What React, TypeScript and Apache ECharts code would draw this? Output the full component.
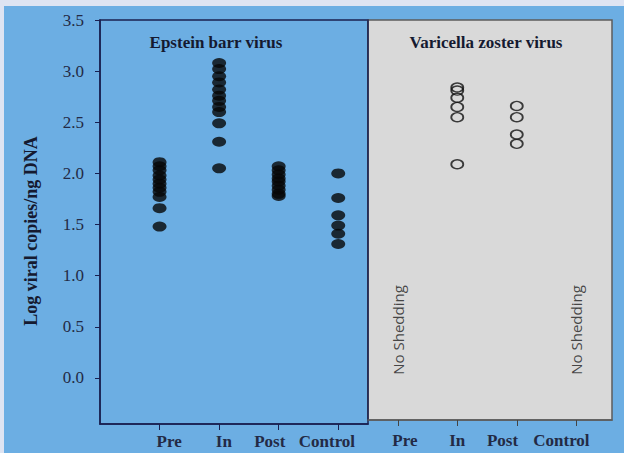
import React, { useEffect, useRef } from "react";
import * as echarts from "echarts";

const categories = ["Pre", "In", "Post", "Control"];
const yTickValues = [0, 0.5, 1, 1.5, 2, 2.5, 3, 3.5];

// Epstein barr virus (filled dots)
const ebvPre = [2.11, 2.07, 2.03, 1.98, 1.94, 1.9, 1.86, 1.82, 1.77, 1.66, 1.48];
const ebvIn = [3.08, 3.02, 2.95, 2.89, 2.82, 2.76, 2.71, 2.65, 2.6, 2.49, 2.31, 2.05];
const ebvPost = [2.07, 2.03, 1.99, 1.95, 1.92, 1.88, 1.84, 1.8, 1.78];
const ebvControl = [2.0, 1.76, 1.59, 1.49, 1.41, 1.31];

// Varicella zoster virus (open circles)
const vzvIn = [2.84, 2.81, 2.74, 2.65, 2.55, 2.09];
const vzvPost = [2.66, 2.55, 2.38, 2.29];
const noSheddingGroups = ["Pre", "Control"];
const noSheddingLevel = 0.47;

// label placement nudges (in axis units) — the original's labels are not centred on their ticks
const leftLabelShift = [0.16, 0.08, -0.15, -0.19];
const rightLabelShift = [0.12, 0.0, -0.24, -0.25];

const SERIF = '"Liberation Serif", "Times New Roman", serif';
const NAVY = "#1a2050";
const TEXT = "#232a45";

const pos = (cat: string, offset: number) => categories.indexOf(cat) + 1 + offset;

export default function App() {
  const ref = useRef<HTMLDivElement>(null);
  useEffect(() => {
    if (!ref.current) return;
    const chart = echarts.init(ref.current, null, { renderer: "svg" });
    const catLabel = (offset: number) => (v: number) => categories[Math.round(v) - 1 - offset] ?? "";
    const ticks = (offset: number) => categories.map((c) => pos(c, offset));
    const labelVals = (offset: number, shift: number[]) => categories.map((c, i) => pos(c, offset) + shift[i]);
    chart.setOption({
      animation: false,
      backgroundColor: "transparent",
      grid: [
        { left: 100, top: 20, width: 268, height: 404, show: true, borderColor: NAVY, borderWidth: 1.5, backgroundColor: "transparent" },
        { left: 368, top: 20, width: 244, height: 400, show: true, borderColor: "#5c5c5c", borderWidth: 1.5, backgroundColor: "#d9d9d9" },
      ],
      xAxis: [
        {
          gridIndex: 0, type: "value", min: 0, max: 4.5,
          splitLine: { show: false },
          axisLine: { show: true, onZero: false, lineStyle: { color: NAVY, width: 1.5 } },
          axisTick: { show: true, customValues: ticks(0), length: 6, lineStyle: { color: NAVY } },
          axisLabel: { customValues: labelVals(0, leftLabelShift), formatter: catLabel(0), margin: 9, color: TEXT, fontFamily: SERIF, fontWeight: "bold", fontSize: 17 },
        },
        {
          gridIndex: 1, type: "value", min: 4.5, max: 8.6,
          splitLine: { show: false },
          axisLine: { show: true, onZero: false, lineStyle: { color: "#5c5c5c", width: 1.5 } },
          axisTick: { show: true, customValues: ticks(4), length: 6, lineStyle: { color: "#444" } },
          axisLabel: { customValues: labelVals(4, rightLabelShift), formatter: catLabel(4), margin: 12, color: TEXT, fontFamily: SERIF, fontWeight: "bold", fontSize: 17 },
        },
      ],
      yAxis: [
        {
          gridIndex: 0, type: "value", min: -0.45, max: 3.5,
          splitLine: { show: false },
          axisLine: { show: true, onZero: false, lineStyle: { color: NAVY, width: 1.5 } },
          axisTick: { show: true, customValues: yTickValues, length: 5, lineStyle: { color: NAVY } },
          axisLabel: { customValues: yTickValues, formatter: (v: number) => v.toFixed(1), margin: 16, color: TEXT, fontFamily: SERIF, fontSize: 17 },
        },
        {
          gridIndex: 1, type: "value", min: -0.41, max: 3.5,
          splitLine: { show: false },
          axisLine: { show: true, onZero: false, lineStyle: { color: NAVY, width: 1.5 } },
          axisTick: { show: false },
          axisLabel: { show: false },
        },
      ],
      graphic: [
        { type: "text", x: 216, y: 42, style: { text: "Epstein barr virus", fill: "#151a30", font: `bold 17px ${SERIF}`, textAlign: "center", textVerticalAlign: "middle" } },
        { type: "text", x: 486, y: 42, style: { text: "Varicella zoster virus", fill: "#151a30", font: `bold 17px ${SERIF}`, textAlign: "center", textVerticalAlign: "middle" } },
        { type: "text", x: 31, y: 231, rotation: Math.PI / 2, style: { text: "Log viral copies/ng DNA", fill: "#151a30", font: `bold 18px ${SERIF}`, textAlign: "center", textVerticalAlign: "middle" } },
      ],
      series: [
        ...[
          ["Pre", ebvPre],
          ["In", ebvIn],
          ["Post", ebvPost],
          ["Control", ebvControl],
        ].map(([cat, vals]) => ({
          type: "scatter", xAxisIndex: 0, yAxisIndex: 0,
          symbol: "circle", symbolSize: [14, 10],
          itemStyle: { color: "#060606" },
          data: (vals as number[]).map((v) => [pos(cat as string, 0), v]),
        })),
        ...[
          ["In", vzvIn],
          ["Post", vzvPost],
        ].map(([cat, vals]) => ({
          type: "scatter", xAxisIndex: 1, yAxisIndex: 1,
          symbol: "circle", symbolSize: [12, 9],
          itemStyle: { color: "rgba(0,0,0,0)", borderColor: "#111", borderWidth: 1.6 },
          data: (vals as number[]).map((v) => [pos(cat as string, 4), v]),
        })),
        {
          type: "scatter", xAxisIndex: 1, yAxisIndex: 1,
          symbol: "circle", symbolSize: 1,
          itemStyle: { color: "rgba(0,0,0,0)" },
          label: {
            show: true, position: "inside", rotate: 90, formatter: "No Shedding",
            color: "#1e1e1e", fontFamily: '"Open Sans", sans-serif', fontSize: 15,
          },
          data: noSheddingGroups.map((c) => [pos(c, 4), noSheddingLevel]),
        },
      ],
    });
    return () => chart.dispose();
  }, []);
  return (
    <div style={{ position: "fixed", left: 0, top: 0, width: 624, height: 453, background: "#dee4f2" }}>
      <div style={{ position: "absolute", left: 4, top: 6, right: 0, bottom: 0, background: "#6caee3" }} />
      <div ref={ref} style={{ position: "absolute", left: 0, top: 0, width: 624, height: 453 }} />
    </div>
  );
}
